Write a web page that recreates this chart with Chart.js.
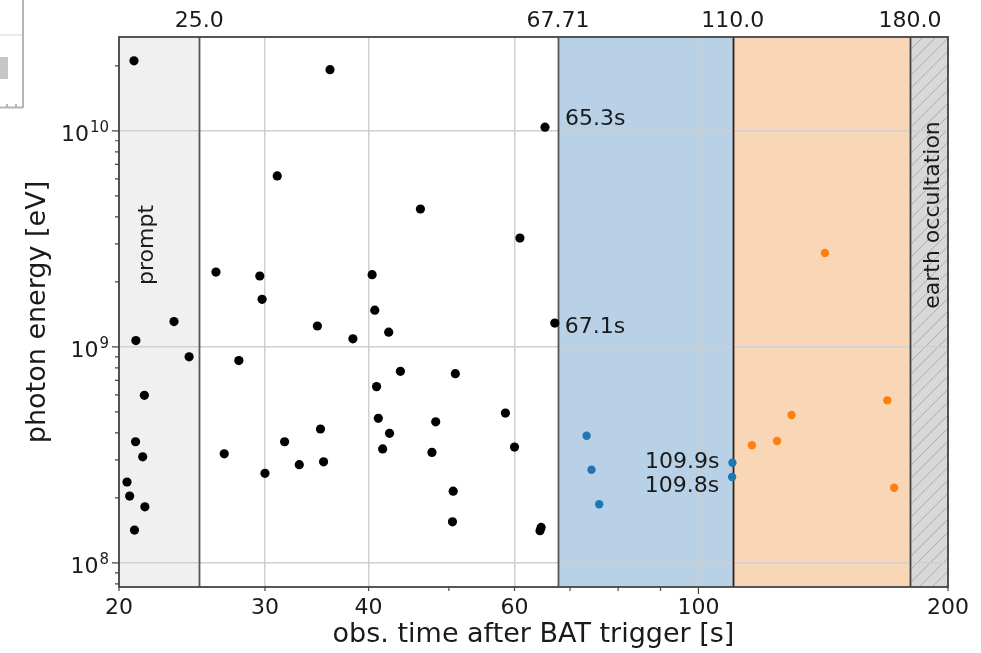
<!DOCTYPE html>
<html>
<head>
<meta charset="utf-8">
<script src="https://cdn.jsdelivr.net/npm/chart.js@4.4.0/dist/chart.umd.min.js"></script>
<style>
  html, body { margin: 0; padding: 0; background: #fff; }
  #wrap { width: 981px; height: 653px; position: relative; }
</style>
</head>
<body>
<div id="wrap"><canvas id="grafica"></canvas></div>
<script>
// photons before 67.71 s (black)
var blackTimes = [20.85, 20.96, 23.3, 24.3, 21.46, 20.94, 21.36, 20.45, 20.60, 21.49, 20.88,
    26.18, 26.79, 27.9, 29.57, 29.76, 30.0, 31.04, 31.68, 33.0, 35.0, 35.3, 34.7, 35.94,
    38.3, 40.4, 40.7, 42.3, 40.9, 41.1, 42.4, 41.6, 43.7, 50.9, 48.2, 47.7, 58.5, 60.0,
    50.6, 50.5, 64.6, 64.4, 65.3, 46.2, 60.9, 67.1];
var blackEnergies = [2.11e10, 1.07e9, 1.31e9, 9.0e8, 5.97e8, 3.64e8, 3.10e8, 2.37e8, 2.04e8, 1.82e8, 1.42e8,
    2.22e9, 3.20e8, 8.65e8, 2.13e9, 1.66e9, 2.60e8, 6.19e9, 3.64e8, 2.85e8, 4.17e8, 2.94e8, 1.25e9, 1.92e10,
    1.09e9, 2.16e9, 1.48e9, 1.17e9, 6.55e8, 4.67e8, 3.98e8, 3.37e8, 7.71e8, 7.52e8, 4.50e8, 3.25e8, 4.94e8, 3.44e8,
    2.15e8, 1.55e8, 1.46e8, 1.41e8, 1.04e10, 4.35e9, 3.19e9, 1.29e9];
// 67.71 - 110 s (blue)
var blueTimes = [73.3, 74.3, 75.9, 109.9, 109.8];
var blueEnergies = [3.88e8, 2.70e8, 1.87e8, 2.91e8, 2.50e8];
// 110 - 180 s (orange)
var orangeTimes = [116.0, 124.4, 129.5, 142.1, 169.0, 172.2];
var orangeEnergies = [3.51e8, 3.67e8, 4.84e8, 2.72e9, 5.66e8, 2.23e8];

var timeRange = [20, 200];
var energyRange = [7.74e7, 2.72e10];
var windowEdges = [20, 25, 67.71, 110, 180, 200];
var windowNames = ['prompt', 'earth occultation'];
var xTickValues = [20, 30, 40, 60, 100, 200];
var xTickLabels = ['20', '30', '40', '60', '100', '200'];
var topTickValues = [25, 67.71, 110, 180];
var topTickLabels = ['25.0', '67.71', '110.0', '180.0'];
var yTickValues = [1e8, 1e9, 1e10];
var yTickExponents = ['8', '9', '10'];
var noteTimes = [65.3, 67.1, 109.9, 109.8];
var noteEnergies = [1.04e10, 1.29e9, 2.91e8, 2.50e8];
var noteLabels = ['65.3s', '67.1s', '109.9s', '109.8s'];

var FONT = 'DejaVu Sans';
var TXT = '#1a1a1a';

function puntos(xs, ys) {
    return xs.map(function(t, i) { return {x: t, y: ys[i]}; });
}

var fondo = {
    id: 'fondo',
    beforeDraw: function(chart) {
        var ctx = chart.ctx, a = chart.chartArea, x = chart.scales.x;
        var relleno = ['#f0f0f0', null, '#b9d1e7', '#f9d6b6', '#d8d8d8'];
        ctx.save();
        for (var i = 0; i < windowEdges.length - 1; i++) {
            if (!relleno[i]) continue;
            var x0 = x.getPixelForValue(windowEdges[i]);
            var x1 = x.getPixelForValue(windowEdges[i + 1]);
            ctx.fillStyle = relleno[i];
            ctx.fillRect(x0, a.top, x1 - x0, a.bottom - a.top);
        }
        // hatch for earth occultation
        var h0 = x.getPixelForValue(windowEdges[4]), h1 = x.getPixelForValue(windowEdges[5]);
        var alto = a.bottom - a.top;
        ctx.beginPath();
        ctx.rect(h0, a.top, h1 - h0, alto);
        ctx.clip();
        ctx.strokeStyle = '#adadad';
        ctx.lineWidth = 1;
        ctx.beginPath();
        for (var s = h0 - alto; s < h1 + 14; s += 13) {
            ctx.moveTo(s, a.bottom);
            ctx.lineTo(s + alto, a.top);
        }
        ctx.stroke();
        ctx.restore();
    },
    beforeDatasetsDraw: function(chart) {
        var ctx = chart.ctx, a = chart.chartArea, x = chart.scales.x, y = chart.scales.y;
        ctx.save();
        // window edge lines
        var colores = [null, '#555', '#555', '#222', '#444'];
        for (var i = 1; i < windowEdges.length - 1; i++) {
            var px = Math.round(x.getPixelForValue(windowEdges[i])) + 0.5;
            ctx.strokeStyle = colores[i];
            ctx.lineWidth = 1.8;
            ctx.beginPath();
            ctx.moveTo(px, a.top);
            ctx.lineTo(px, a.bottom);
            ctx.stroke();
        }
        // frame
        ctx.strokeStyle = '#444';
        ctx.lineWidth = 1.8;
        ctx.strokeRect(a.left, a.top, a.right - a.left, a.bottom - a.top);
        // tick marks
        ctx.lineWidth = 1.2;
        ctx.beginPath();
        for (var n = 7; n <= 10; n++) {
            for (var m = 1; m <= 9; m++) {
                var v = m * Math.pow(10, n);
                if (v < energyRange[0] || v > energyRange[1]) continue;
                var py = y.getPixelForValue(v);
                ctx.moveTo(a.left, py);
                ctx.lineTo(a.left - (m === 1 ? 7 : 4), py);
            }
        }
        for (var t = 20; t <= 200; t += (t < 100 ? 10 : 100)) {
            var pxb = x.getPixelForValue(t);
            ctx.moveTo(pxb, a.bottom);
            ctx.lineTo(pxb, a.bottom + (t === 100 ? 7 : 4));
        }
        ctx.stroke();
        // y tick labels 10^n
        ctx.fillStyle = TXT;
        ctx.textAlign = 'right';
        ctx.textBaseline = 'alphabetic';
        yTickValues.forEach(function(v, i) {
            var py = y.getPixelForValue(v);
            var xr = a.left - 10;
            ctx.font = '15px "' + FONT + '"';
            var w = ctx.measureText(yTickExponents[i]).width;
            ctx.fillText(yTickExponents[i], xr, py + 1);
            ctx.font = '22px "' + FONT + '"';
            ctx.fillText('10', xr - w - 1, py + 10);
        });
        // window names
        ctx.font = '22px "' + FONT + '"';
        ctx.textAlign = 'center';
        ctx.textBaseline = 'middle';
        var p0 = (x.getPixelForValue(windowEdges[0]) + x.getPixelForValue(windowEdges[1])) / 2 - 12;
        ctx.save();
        ctx.translate(p0, a.top + 208);
        ctx.rotate(-Math.PI / 2);
        ctx.fillText(windowNames[0], 0, 0);
        ctx.restore();
        var p1 = (x.getPixelForValue(windowEdges[4]) + x.getPixelForValue(windowEdges[5])) / 2 + 4;
        ctx.save();
        ctx.translate(p1, a.top + 178);
        ctx.rotate(-Math.PI / 2);
        ctx.fillText(windowNames[1], 0, 0);
        ctx.restore();
        // notes next to points
        var desp = [[20, -8, 'left'], [10, 4, 'left'], [-13, 0, 'right'], [-13, 9, 'right']];
        noteLabels.forEach(function(txt, i) {
            var px = x.getPixelForValue(noteTimes[i]);
            var py = y.getPixelForValue(noteEnergies[i]);
            ctx.textAlign = desp[i][2];
            ctx.fillText(txt, px + desp[i][0], py + desp[i][1]);
        });
        ctx.restore();
    },
    afterDraw: function(chart) {
        // piece of the neighbouring figure at the top left
        var ctx = chart.ctx;
        ctx.save();
        ctx.fillStyle = '#c6c6c6';
        ctx.fillRect(0, 57, 8, 22);
        ctx.strokeStyle = '#e2e2e2';
        ctx.lineWidth = 1.5;
        ctx.beginPath();
        ctx.moveTo(0, 35); ctx.lineTo(22, 35);
        ctx.stroke();
        ctx.strokeStyle = '#b5b5b5';
        ctx.lineWidth = 2;
        ctx.beginPath();
        ctx.moveTo(23, 0); ctx.lineTo(23, 108);
        ctx.moveTo(0, 107.5); ctx.lineTo(23, 107.5);
        ctx.moveTo(7, 104); ctx.lineTo(7, 107);
        ctx.moveTo(16, 104); ctx.lineTo(16, 107);
        ctx.stroke();
        ctx.restore();
    }
};

var ctx = document.getElementById('grafica').getContext('2d');
var grafica = new Chart(ctx, {
    type: 'scatter',
    data: {
        datasets: [
            { data: puntos(blackTimes, blackEnergies), backgroundColor: '#000', pointRadius: 4.6, borderWidth: 0 },
            { data: puntos(blueTimes, blueEnergies), backgroundColor: '#1f77b4', pointRadius: 4.2, borderWidth: 0 },
            { data: puntos(orangeTimes, orangeEnergies), backgroundColor: '#ff7f0e', pointRadius: 4.2, borderWidth: 0 }
        ]
    },
    options: {
        responsive: true,
        maintainAspectRatio: false,
        animation: false,
        layout: { padding: { left: 0, right: 33, top: 0, bottom: 0 } },
        plugins: { legend: { display: false }, tooltip: { enabled: false } },
        scales: {
            x: {
                type: 'logarithmic', position: 'bottom',
                min: timeRange[0], max: timeRange[1],
                afterBuildTicks: function(s) { s.ticks = xTickValues.map(function(v) { return {value: v}; }); },
                afterFit: function(s) { s.height = 66; },
                ticks: {
                    callback: function(v, i) { return xTickLabels[i]; },
                    autoSkip: false, maxRotation: 0, padding: 3,
                    font: { family: FONT, size: 22 }, color: TXT
                },
                grid: { color: '#cfcfcf', lineWidth: 1.5, tickLength: 5, tickColor: 'rgba(0,0,0,0)' },
                border: { display: false },
                title: {
                    display: true, text: 'obs. time after BAT trigger [s]',
                    font: { family: FONT, size: 27 }, color: TXT, padding: { top: 0, bottom: 2 }
                }
            },
            xTop: {
                type: 'logarithmic', position: 'top',
                min: timeRange[0], max: timeRange[1],
                afterBuildTicks: function(s) { s.ticks = topTickValues.map(function(v) { return {value: v}; }); },
                afterFit: function(s) { s.height = 37; },
                ticks: {
                    callback: function(v, i) { return topTickLabels[i]; },
                    autoSkip: false, maxRotation: 0, padding: 3,
                    font: { family: FONT, size: 22 }, color: TXT
                },
                grid: { display: false, drawTicks: false },
                border: { display: false }
            },
            y: {
                type: 'logarithmic', position: 'left',
                min: energyRange[0], max: energyRange[1],
                afterBuildTicks: function(s) { s.ticks = yTickValues.map(function(v) { return {value: v}; }); },
                afterFit: function(s) { s.width = 119; },
                ticks: { display: false },
                grid: { color: '#cfcfcf', lineWidth: 1.5, drawTicks: false },
                border: { display: false },
                title: {
                    display: true, text: 'photon energy [eV]',
                    font: { family: FONT, size: 27 }, color: TXT, padding: { top: 22, bottom: 0 }
                }
            }
        }
    },
    plugins: [fondo]
});
</script>
</body>
</html>
